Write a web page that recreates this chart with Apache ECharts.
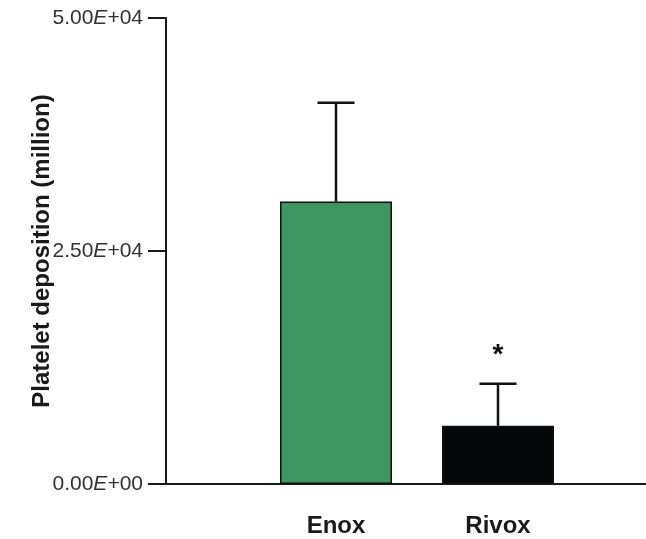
<!DOCTYPE html>
<html>
<head>
<meta charset="utf-8">
<script src="https://cdn.jsdelivr.net/npm/echarts@6/dist/echarts.min.js"></script>
<style>
html,body{margin:0;padding:0;background:#fff;}
#chart{width:646px;height:539px;}
</style>
</head>
<body>
<div id="chart"></div>
<script>
var categories = ['Enox', 'Rivox'];
var means = [30300, 6250];
var errors = [10600, 4500];
var signif = ['', '*'];
var barColors = ['#3e9561', '#050708'];
var yTicks = [0, 25000, 50000];
var yMin = 0, yMax = 50000, yInterval = 25000;
var yTitle = 'Platelet deposition (million)';

function sci(v) {
  if (v === 0) return '{n|0.00}{e|E}{n|+00}';
  var exp = Math.floor(Math.log10(Math.abs(v)));
  var mant = (v / Math.pow(10, exp)).toFixed(2);
  var es = (exp < 10 ? '0' : '') + exp;
  return '{n|' + mant + '}{e|E}{n|+' + es + '}';
}

var chart = echarts.init(document.getElementById('chart'));
var font = 'Liberation Sans, Arial, sans-serif';
var TOP = 18, BOTTOM = 55;

var option = {
  animation: false,
  backgroundColor: '#fff',
  grid: [
    { left: 255, right: 67, top: TOP, bottom: BOTTOM },
    { left: 166, right: 0, top: TOP, bottom: BOTTOM }
  ],
  xAxis: [
    {
      type: 'category', gridIndex: 0, data: categories,
      axisLine: { show: false }, axisTick: { show: false },
      axisLabel: { margin: 30, fontFamily: font, fontWeight: 'bold', fontSize: 24, color: '#1a1a1a' }
    },
    {
      type: 'category', gridIndex: 1, data: [''],
      axisLine: { show: true, lineStyle: { color: '#1a1a1a', width: 2 } },
      axisTick: { show: false }, axisLabel: { show: false }
    }
  ],
  yAxis: [
    {
      type: 'value', gridIndex: 0, min: yMin, max: yMax, interval: yInterval,
      show: false, splitLine: { show: false }
    },
    {
      type: 'value', gridIndex: 1, min: yMin, max: yMax, interval: yInterval,
      name: yTitle, nameLocation: 'middle', nameRotate: 90, nameGap: 112,
      nameMoveOverlap: false,
      nameTextStyle: { fontFamily: font, fontWeight: 'bold', fontSize: 24, color: '#1a1a1a' },
      axisLine: { show: true, lineStyle: { color: '#1a1a1a', width: 2 } },
      axisTick: { show: true, length: 18, lineStyle: { color: '#1a1a1a', width: 2 } },
      splitLine: { show: false },
      axisLabel: {
        margin: 23,
        formatter: function (v) { return sci(v); },
        rich: {
          n: { fontFamily: font, fontSize: 21, color: '#333' },
          e: { fontFamily: font, fontSize: 21, color: '#333', fontStyle: 'italic' }
        }
      }
    }
  ],
  series: [
    {
      type: 'bar', xAxisIndex: 0, yAxisIndex: 0,
      barWidth: 112,
      data: means.map(function (m, i) {
        return { value: m, itemStyle: { color: barColors[i], borderColor: '#111', borderWidth: 1.5 } };
      }),
      z: 2
    },
    {
      type: 'custom', xAxisIndex: 0, yAxisIndex: 0, z: 3,
      data: categories.map(function (c, i) { return [i, means[i], errors[i]]; }),
      renderItem: function (params, api) {
        var i = api.value(0), m = api.value(1), e = api.value(2);
        var p0 = api.coord([i, m]);
        var p1 = api.coord([i, m + e]);
        var children = [
          { type: 'line', shape: { x1: p0[0], y1: p0[1], x2: p1[0], y2: p1[1] }, style: { stroke: '#111', lineWidth: 2.5 } },
          { type: 'line', shape: { x1: p1[0] - 18.5, y1: p1[1], x2: p1[0] + 18.5, y2: p1[1] }, style: { stroke: '#111', lineWidth: 2.5 } }
        ];
        var s = signif[params.dataIndex];
        if (s) {
          children.push({
            type: 'text',
            style: { text: s, x: p1[0], y: p1[1] - 29, align: 'center', verticalAlign: 'middle',
              font: 'bold 28px ' + font, fill: '#111' }
          });
        }
        return { type: 'group', children: children };
      }
    }
  ]
};
chart.setOption(option);
</script>
</body>
</html>
